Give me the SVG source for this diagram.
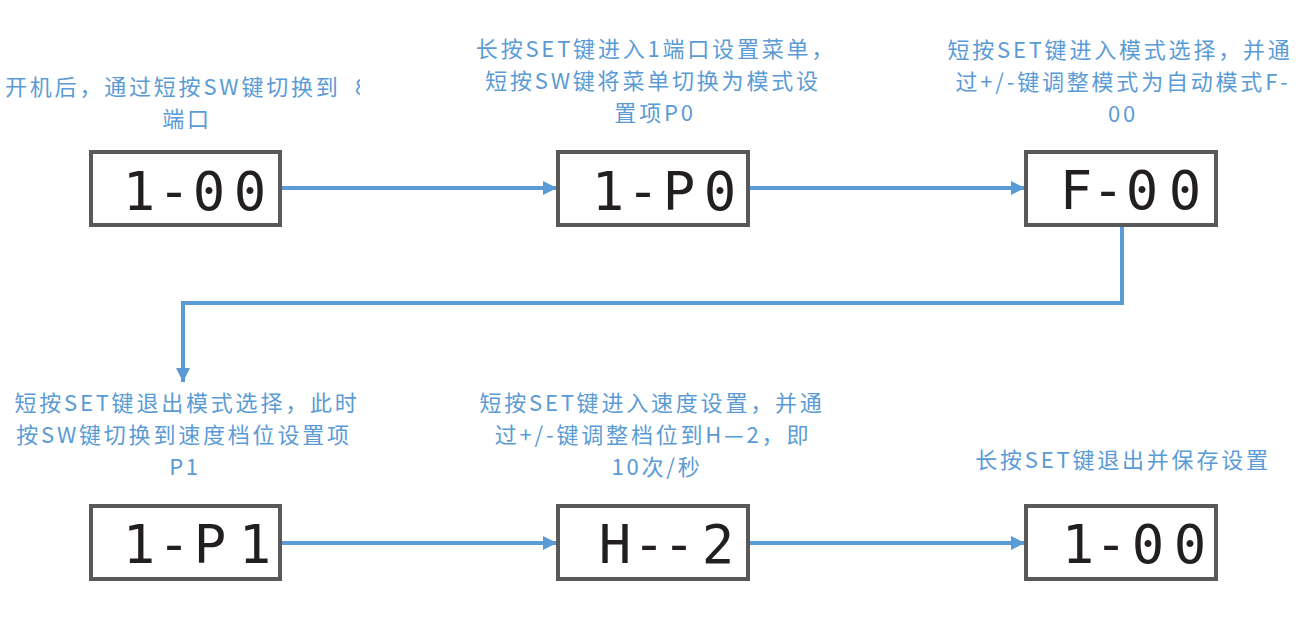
<svg xmlns="http://www.w3.org/2000/svg" width="1312" height="630" viewBox="0 0 1312 630">
<style>
.lbl{font-family:"Noto Sans CJK SC","Noto Sans",sans-serif;font-size:22px;letter-spacing:2.8px;fill:#5b9bd5;text-anchor:middle}
.box{fill:#ffffff;stroke:#595959;stroke-width:4}
.seg{font-family:"DejaVu Sans Mono","Liberation Mono",monospace;font-size:54px;fill:#231f20;text-anchor:middle}
.conn{fill:none;stroke:#5b9bd5;stroke-width:4}
</style>
<defs>
<marker id="arr" viewBox="0 0 10 10" refX="10" refY="5" markerWidth="3.6" markerHeight="3.6" orient="auto" markerUnits="strokeWidth">
<path d="M0,0 L10,5 L0,10 z" fill="#5b9bd5"/>
</marker>
<clipPath id="clip1"><rect x="0" y="60" width="360" height="50"/></clipPath>
</defs>
<rect width="1312" height="630" fill="#ffffff"/>
<g id="connectors">
<line class="conn" x1="282" y1="188" x2="557" y2="188" marker-end="url(#arr)"/>
<line class="conn" x1="750" y1="188" x2="1025" y2="188" marker-end="url(#arr)"/>
<polyline class="conn" points="1122,227 1122,303 183,303 183,382" marker-end="url(#arr)"/>
<line class="conn" x1="282" y1="543" x2="557" y2="543" marker-end="url(#arr)"/>
<line class="conn" x1="750" y1="543" x2="1025" y2="543" marker-end="url(#arr)"/>
</g>
<g id="n1">
<rect class="box" x="91" y="152" width="189" height="73"/>
<text class="seg" x="139 174 209 250" y="210">1-00</text>
<g clip-path="url(#clip1)"><text class="lbl" style="text-anchor:start" x="5" y="95">开机后，通过短按SW键切换到<tspan x="355">8</tspan></text></g>
<text class="lbl" x="187" y="127">端口</text>
</g>
<g id="n2">
<rect class="box" x="558" y="152" width="190" height="73"/>
<text class="seg" x="608 643 679 720" y="210">1-P0</text>
<text class="lbl" x="656" y="57">长按SET键进入1端口设置菜单，</text>
<text class="lbl" x="653" y="89">短按SW键将菜单切换为模式设</text>
<text class="lbl" x="655" y="121">置项P0</text>
</g>
<g id="n3">
<rect class="box" x="1026" y="152" width="190" height="73"/>
<text class="seg" x="1076 1108 1142 1185" y="209">F-00</text>
<text class="lbl" x="1120" y="58">短按SET键进入模式选择，并通</text>
<text class="lbl" x="1123" y="90">过+/-键调整模式为自动模式F-</text>
<text class="lbl" x="1123" y="122">00</text>
</g>
<g id="n4">
<rect class="box" x="91" y="506" width="189" height="73"/>
<text class="seg" x="139 174 210 255" y="563">1-P1</text>
<text class="lbl" x="187" y="411">短按SET键退出模式选择，此时</text>
<text class="lbl" x="184" y="443">按SW键切换到速度档位设置项</text>
<text class="lbl" x="185" y="475">P1</text>
</g>
<g id="n5">
<rect class="box" x="558" y="506" width="190" height="73"/>
<text class="seg" x="615 649 679 718" y="563">H--2</text>
<text class="lbl" x="652" y="411">短按SET键进入速度设置，并通</text>
<text class="lbl" x="653" y="443">过+/-键调整档位到H—2，即</text>
<text class="lbl" x="657" y="475">10次/秒</text>
</g>
<g id="n6">
<rect class="box" x="1026" y="506" width="190" height="73"/>
<text class="seg" x="1078 1111 1148 1190" y="563">1-00</text>
<text class="lbl" x="1123" y="468">长按SET键退出并保存设置</text>
</g>
</svg>
